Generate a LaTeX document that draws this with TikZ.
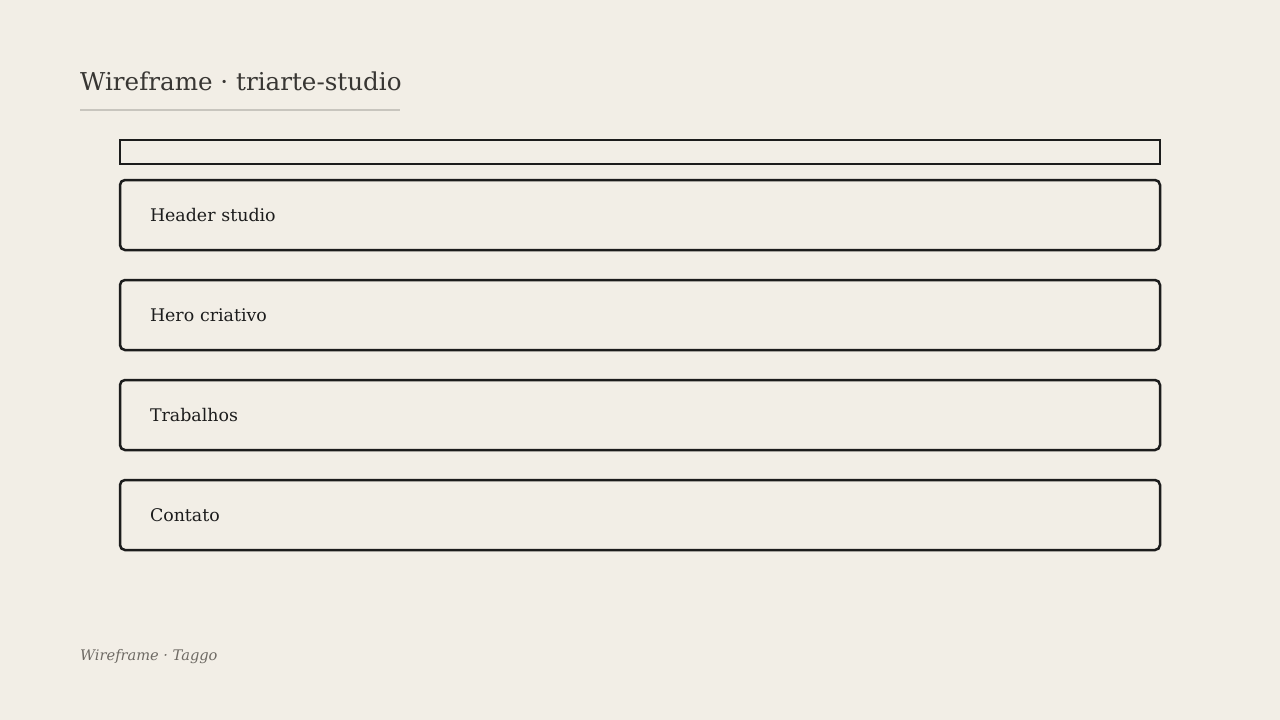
\documentclass[tikz,border=0pt]{standalone}
\usepackage{fontspec}
\setmainfont{DejaVu Serif}
\usetikzlibrary{positioning}
\definecolor{paper}{HTML}{F2EEE6}
\definecolor{ink}{HTML}{1C1C1C}
\definecolor{titleink}{HTML}{383633}
\definecolor{rulegray}{HTML}{C8C5BE}
\definecolor{muted}{HTML}{6E6A64}
\tikzstyle{section} = [draw=ink, line width=2.5pt, rounded corners=5pt, anchor=north west, outer sep=0pt, minimum height=70pt, text width=980pt, inner xsep=30pt, align=left, text=ink, font=\fontsize{17.4}{21}\selectfont]
\tikzstyle{navbar} = [draw=ink, line width=2pt, anchor=north west, outer sep=0pt, minimum width=1040pt, minimum height=24pt, inner sep=0pt]

\begin{document}
\begin{tikzpicture}[x=1pt, y=-1pt]
        % Page
        \fill[paper] (0,0) rectangle (1280,720);
        \useasboundingbox (0,0) rectangle (1280,720);

        % Title
        \node[anchor=base west, inner sep=0pt, text=titleink, font=\fontsize{24.6}{30}\selectfont] (title) at (80,90) {Wireframe · triarte-studio};
        \coordinate (ruleL) at (80,109.5);
        \coordinate (ruleR) at (400,109.5);
        \draw[rulegray, line width=2pt] (ruleL) -- (ruleR);

        % Sections
        \node[navbar] (nav) at (120,140) {};
        \node[section] (header) at (120,180) {Header studio};
        \node[section] (hero) at (120,280) {Hero criativo};
        \node[section] (works) at (120,380) {Trabalhos};
        \node[section] (contact) at (120,480) {Contato};

        % Footer
        \node[anchor=base west, inner sep=0pt, text=muted, font=\fontsize{14.6}{18}\selectfont\itshape] (footer) at (80,660) {Wireframe · Taggo};

      \end{tikzpicture}
\end{document}
